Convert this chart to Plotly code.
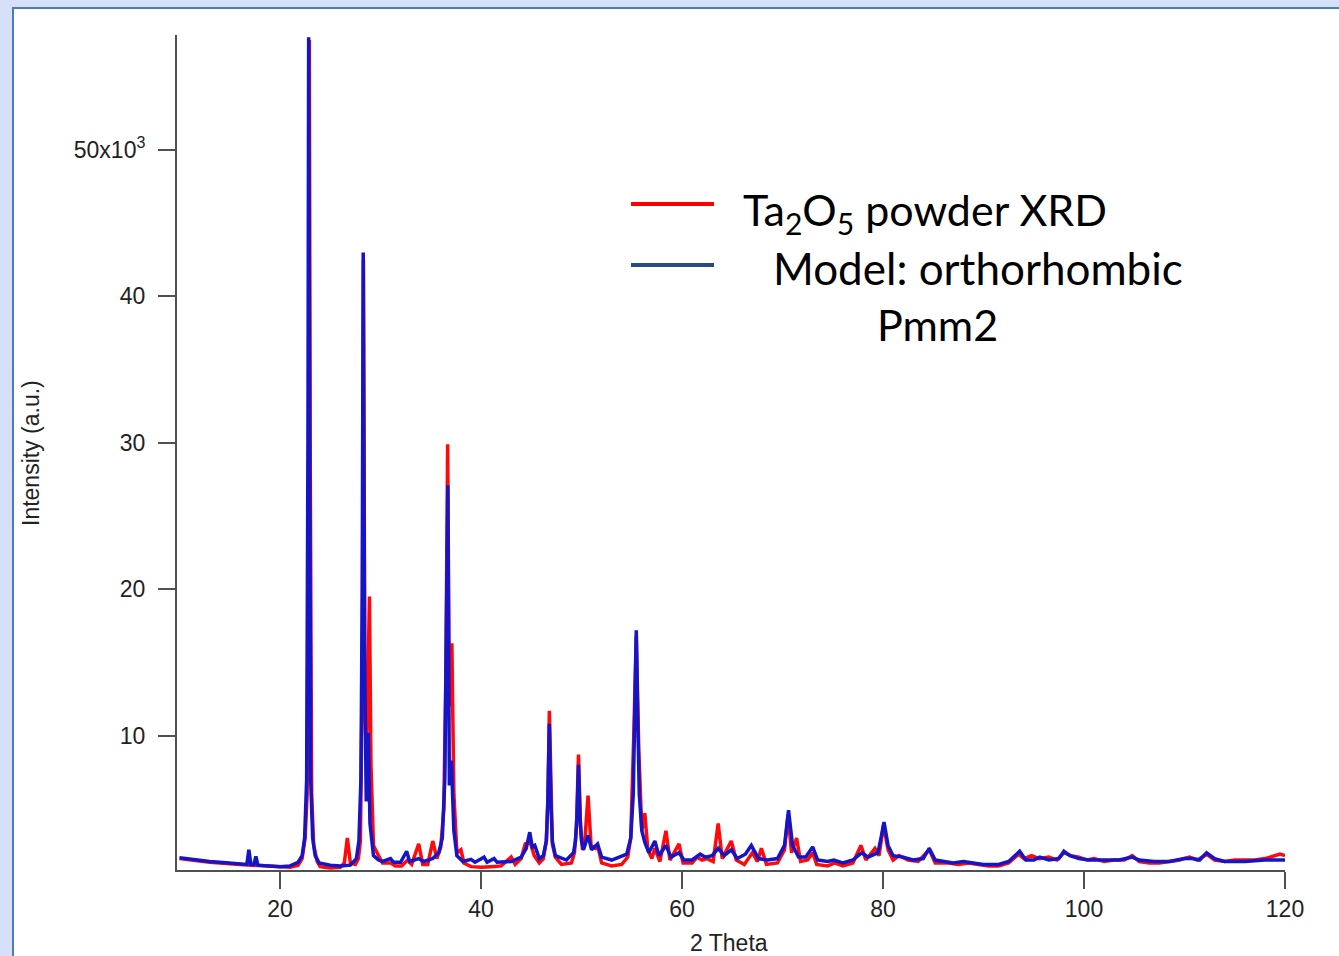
import plotly.graph_objects as go

# ---- Data (2 Theta in degrees, intensity in thousands of counts) ----
xrd_theta = [10.0, 11, 12, 13, 14, 14.5, 15, 16, 17, 18, 19, 20, 21, 21.8, 22.2, 22.5, 22.7, 22.85, 22.92, 23.0,
             23.15, 23.35, 23.7, 24, 25, 26, 26.4, 26.7, 27.0, 27.5, 27.8, 28.0, 28.2, 28.3, 28.45, 28.6, 28.8,
             28.9, 29.05, 29.3, 29.8, 30.2, 31, 31.5, 32.1, 32.7, 33.1, 33.8, 34.2, 34.7, 35.2, 35.6, 36.0,
             36.3, 36.5, 36.68, 36.85, 37.1, 37.3, 37.6, 38.0, 38.3, 39, 40, 41, 42, 43, 43.4, 44.0, 44.4, 44.9,
             45.3, 45.8, 46.2, 46.5, 46.65, 46.8, 46.95, 47.1, 47.4, 48, 49, 49.3, 49.5, 49.7, 49.9, 50.1, 50.3,
             50.65, 50.95, 51.4, 51.6, 52.0, 53, 54, 54.6, 54.9, 55.2, 55.45, 55.7, 56.0, 56.3, 56.6, 57.0, 57.3,
             57.8, 58.4, 58.8, 59.7, 60.1, 61, 61.5, 62, 62.5, 63.1, 63.6, 64.0, 64.9, 65.4, 66.2, 67.0, 67.5,
             67.9, 68.4, 69.5, 70.2, 70.55, 70.9, 71.4, 71.8, 72.5, 73.0, 73.4, 74.5, 75.2, 76, 77, 77.8, 78.3,
             79.2, 79.6, 80.05, 80.5, 81, 81.6, 82.5, 83.5, 84.6, 85.2, 86.5, 87.5, 88.5, 89.5, 90.5, 91.5, 92.5,
             93.5, 94.0, 94.8, 95.5, 96.5, 97.3, 98.0, 98.7, 99.5, 100.3, 101, 102, 103, 104.0, 104.8, 105.5,
             106.5, 107.5, 108.5, 109.5, 110.5, 111.3, 112.2, 113, 114, 115, 116, 117, 118, 119, 119.5, 120]
xrd_intensity = [1.6, 1.5, 1.4, 1.35, 1.3, 1.3, 1.25, 1.2, 1.15, 1.1, 1.05, 1.0, 1.0, 1.15, 1.6, 3.0, 6, 30, 57.5,
                 30, 6, 2.5, 1.4, 1.05, 0.95, 1.0, 1.3, 3.0, 1.3, 1.2, 1.6, 2.8, 15, 42.5, 12, 8, 16,
                 19.5, 8, 2.5, 1.8, 1.3, 1.3, 1.1, 1.1, 1.5, 1.2, 2.6, 1.2, 1.2, 2.8, 1.6, 2.4,
                 5, 14, 29.9, 12, 16.3, 6, 2.0, 2.2, 1.3, 1.05, 1.0, 1.05, 1.1, 1.7, 1.2, 1.6, 2.6, 2.7,
                 1.8, 1.3, 1.6, 2.8, 5.5, 11.7, 5.5, 2.6, 1.7, 1.2, 1.3, 2.0, 3.8, 8.7, 3.8, 2.2, 2.5,
                 5.9, 2.5, 2.3, 2.5, 1.3, 1.1, 1.2, 1.7, 3.0, 10, 16.8, 9, 3.5, 4.7, 2.2, 1.6, 2.3,
                 1.4, 3.5, 1.5, 2.6, 1.3, 1.3, 1.7, 1.5, 1.6, 1.4, 4.0, 1.6, 2.8, 1.5, 1.2, 2.0, 1.4,
                 2.3, 1.2, 1.3, 2.2, 4.6, 2.0, 3.0, 1.4, 1.5, 2.0, 1.2, 1.1, 1.3, 1.1, 1.3, 2.5, 1.5,
                 2.3, 1.8, 3.9, 2.2, 1.5, 1.8, 1.5, 1.4, 2.2, 1.3, 1.3, 1.2, 1.3, 1.2, 1.1, 1.1, 1.3,
                 1.9, 1.6, 1.8, 1.6, 1.7, 1.5, 2.0, 1.8, 1.7, 1.5, 1.6, 1.4, 1.5, 1.5, 1.8, 1.4,
                 1.3, 1.3, 1.4, 1.5, 1.7, 1.5, 1.9, 1.5, 1.4, 1.5, 1.5, 1.5, 1.6, 1.8, 1.9, 1.8]

model_theta = [10.0, 11, 12, 13, 14, 15, 16, 16.7, 16.9, 17.1, 17.4, 17.6, 17.8, 19, 20, 21, 21.8, 22.2, 22.45,
               22.65, 22.78, 22.85, 22.93, 23.05, 23.25, 23.5, 23.9, 25, 26, 27, 27.6, 27.85, 28.05, 28.18,
               28.28, 28.42, 28.58, 28.78, 28.95, 29.3, 29.8, 30.2, 31, 31.3, 32.0, 32.6, 32.9, 33.8, 34.3,
               35.2, 35.8, 36.15, 36.4, 36.55, 36.7, 36.85, 37.05, 37.3, 37.6, 38.2, 39, 39.4, 40.3, 40.6, 41.3,
               41.6, 43, 44.0, 44.5, 44.85, 45.1, 45.35, 45.8, 46.2, 46.5, 46.65, 46.8, 46.95, 47.1, 47.4, 48.5,
               49.2, 49.4, 49.55, 49.7, 49.85, 50.0, 50.2, 50.65, 51.0, 51.6, 52.0, 53, 54.5, 54.9, 55.15, 55.3,
               55.45, 55.6, 55.75, 56.0, 56.3, 56.7, 57.3, 57.7, 58.4, 58.9, 59.7, 60.2, 61, 61.8, 62.3, 63.0,
               63.6, 64.2, 64.9, 65.5, 66.3, 66.9, 67.6, 68.5, 69.5, 70.2, 70.6, 71.0, 71.6, 72.3, 73.0, 73.5,
               74.5, 75.1, 76, 77, 77.9, 78.5, 79.5, 79.8, 80.1, 80.5, 81.0, 82, 83, 84.0, 84.6, 85.2, 86, 87,
               88, 89, 90, 91.5, 92.5, 93.6, 94.2, 95, 95.6, 96.5, 97.5, 98.0, 98.6, 99.5, 100.5, 102, 103.5,
               104.8, 105.5, 107, 108.5, 110, 110.8, 111.5, 112.2, 113, 114, 116, 118, 120]
model_intensity = [1.65, 1.55, 1.5, 1.4, 1.35, 1.3, 1.2, 1.2, 2.2, 1.2, 1.2, 1.75, 1.15, 1.1, 1.05, 1.1, 1.35, 1.8,
                   3.0, 7, 30, 57.7, 30, 7, 3.0, 1.8, 1.3, 1.15, 1.1, 1.15, 1.6, 2.8, 7, 20,
                   43.0, 15, 5.5, 10.2, 4, 1.8, 1.5, 1.4, 1.6, 1.35, 1.35, 2.1, 1.4, 1.6, 1.4,
                   1.6, 2.0, 3.0, 7, 15, 27.1, 6.6, 8.3, 3.5, 1.8, 1.4, 1.55, 1.35, 1.7, 1.35, 1.6,
                   1.35, 1.4, 1.7, 2.3, 3.4, 2.4, 2.5, 1.6, 1.8, 2.8, 5.5, 10.8, 5.5, 2.8, 1.8, 1.5,
                   2.0, 2.8, 4.5, 8.0, 4.5, 2.8, 2.2, 3.2, 2.2, 2.6, 1.7, 1.5, 1.9, 3.0, 6, 11,
                   17.2, 11, 6, 3.5, 2.7, 2.0, 2.8, 1.8, 2.5, 1.7, 2.0, 1.5, 1.5, 1.9, 1.7, 1.8,
                   2.3, 1.8, 2.2, 1.6, 1.9, 2.5, 1.6, 1.5, 1.6, 2.5, 4.9, 2.5, 1.7, 1.7, 2.4, 1.5,
                   1.4, 1.5, 1.3, 1.5, 2.0, 1.7, 2.0, 3.0, 4.1, 2.5, 1.8, 1.7, 1.5, 1.6, 2.3, 1.5, 1.4, 1.3,
                   1.4, 1.3, 1.2, 1.2, 1.4, 2.1, 1.5, 1.5, 1.7, 1.5, 1.6, 2.1, 1.8, 1.6, 1.5, 1.5, 1.5,
                   1.7, 1.5, 1.4, 1.4, 1.6, 1.6, 1.5, 2.0, 1.6, 1.4, 1.4, 1.5, 1.5]

x_ticks = [20, 40, 60, 80, 100, 120]
y_ticks = [10, 20, 30, 40, 50]
y_tick_text = ["10", "20", "30", "40", "50x10<sup>3</sup>"]

# ---- Figure ----
fig = go.Figure()
fig.add_trace(go.Scatter(x=xrd_theta, y=xrd_intensity, mode="lines",
                         line=dict(color="#ff0a0a", width=3.5), showlegend=False))
fig.add_trace(go.Scatter(x=model_theta, y=model_intensity, mode="lines",
                         line=dict(color="#1414c8", width=3.5), showlegend=False))

L, R, T, B = 177, 1285, 35, 870
W, H = 1339, 956
pw, ph = R - L, B - T

def px(xp):
    return (xp - L) / pw

def py(yp):
    return (B - yp) / ph

shapes = [
    dict(type="rect", xref="paper", yref="paper", x0=px(13), x1=px(1360), y0=py(980), y1=py(8),
         fillcolor="white", line=dict(color="#4a7ebb", width=2), layer="below"),
    dict(type="line", xref="paper", yref="paper", x0=px(631), x1=px(714), y0=py(204), y1=py(204),
         line=dict(color="#ff0000", width=4)),
    dict(type="line", xref="paper", yref="paper", x0=px(631), x1=px(714), y0=py(265), y1=py(265),
         line=dict(color="#274b85", width=4)),
]

leg_font = dict(family="Lato, Open Sans, sans-serif", size=43, color="black")
annotations = [
    dict(text="Ta<sub>2</sub>O<sub>5</sub> powder XRD", xref="paper", yref="paper", x=px(741), y=py(212),
         xanchor="left", yanchor="middle", showarrow=False, font=leg_font),
    dict(text="Model: orthorhombic", xref="paper", yref="paper", x=px(771), y=py(268),
         xanchor="left", yanchor="middle", showarrow=False, font=dict(family="Lato, Open Sans, sans-serif",
                                                                       size=44, color="black")),
    dict(text="Pmm2", xref="paper", yref="paper", x=px(875), y=py(325),
         xanchor="left", yanchor="middle", showarrow=False, font=leg_font),
    dict(text="2 Theta", xref="paper", yref="paper", x=px(729), y=py(943),
         xanchor="center", yanchor="middle", showarrow=False,
         font=dict(family="Liberation Sans, Arial", size=23, color="#222")),
    dict(text="Intensity (a.u.)", xref="paper", yref="paper", x=px(31), y=py(453),
         xanchor="center", yanchor="middle", showarrow=False, textangle=-90,
         font=dict(family="Liberation Sans, Arial", size=23, color="#222")),
]

axis_common = dict(showgrid=False, zeroline=False, showline=True, linecolor="#505050", linewidth=2,
                   ticks="outside", ticklen=17, tickwidth=2, tickcolor="#505050",
                   tickfont=dict(family="Liberation Sans, Arial", size=23, color="#222"))

fig.update_layout(
    width=W, height=H,
    margin=dict(l=L, r=W - R, t=T, b=H - B, pad=0),
    paper_bgcolor="#d6e0f8",
    plot_bgcolor="rgba(0,0,0,0)",
    shapes=shapes,
    annotations=annotations,
    xaxis=dict(range=[9.75, 120], tickvals=x_ticks, ticktext=[str(v) for v in x_ticks], **axis_common),
    yaxis=dict(range=[0.82, 57.85], tickvals=y_ticks, ticktext=y_tick_text, ticklabelstandoff=8,
               **axis_common),
)

fig.write_html("out.html")
